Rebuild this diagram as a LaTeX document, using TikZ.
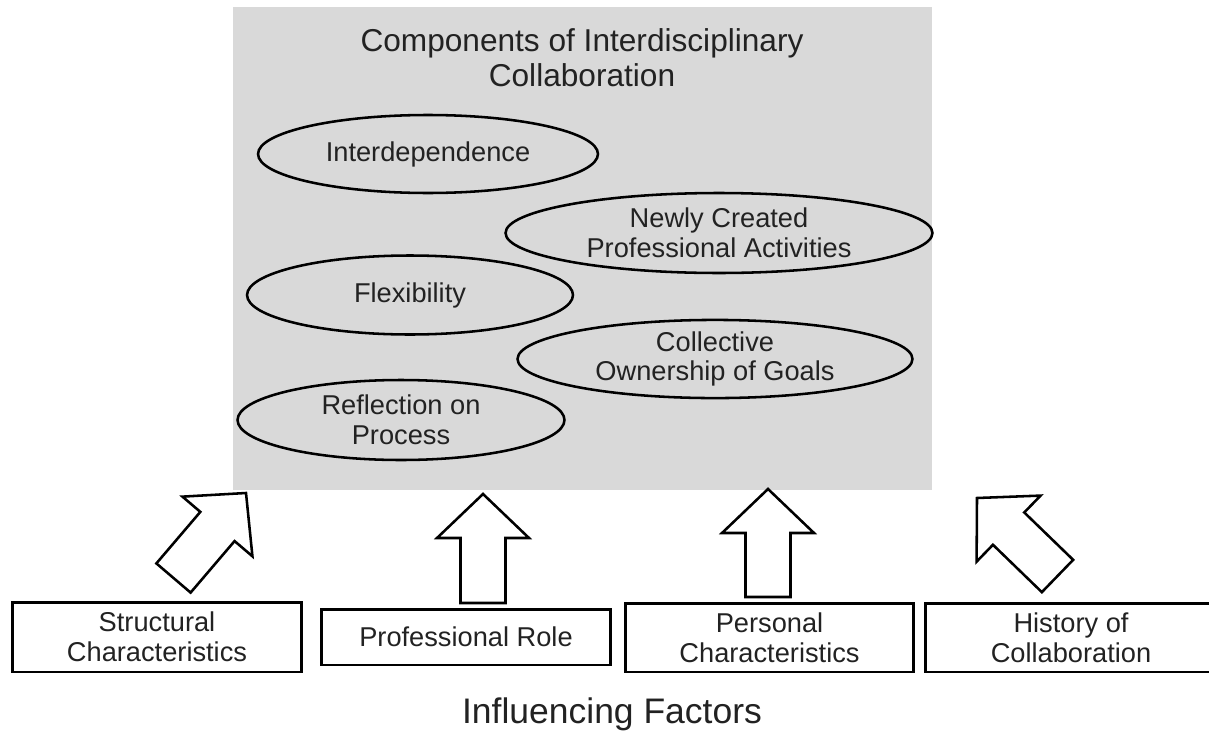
\documentclass[tikz,border=0pt]{standalone}
\usepackage{fontspec}
\setmainfont{Liberation Sans}
\usetikzlibrary{shapes.geometric, calc, positioning}
\definecolor{panelgray}{HTML}{D9D9D9}
\definecolor{inkgray}{HTML}{222222}
\newcommand{\BlockArrow}[2]{%
  \coordinate (#2-base) at ($(#2)!0.88cm!(#1)$);
  \draw[blockarrow] ($(#1)!0.45cm!90:(#2)$) -- ($(#2-base)!0.45cm!90:(#2)$)
    -- ($(#2-base)!0.92cm!90:(#2)$) -- (#2) -- ($(#2-base)!0.92cm!-90:(#2)$)
    -- ($(#2-base)!0.45cm!-90:(#2)$) -- ($(#1)!0.45cm!-90:(#2)$) -- cycle;
}
\tikzset{
    panel/.style={rectangle, fill=panelgray, draw=none, inner sep=0pt},
    comp/.style={ellipse, draw=black, line width=1.45pt, inner sep=0pt,
      align=center, text=inkgray, font=\fontsize{15.5}{17}\selectfont},
    factor/.style={rectangle, draw=black, line width=1.7pt, inner sep=0pt,
      align=center, text=inkgray, font=\fontsize{15.5}{17}\selectfont},
    blockarrow/.style={draw=black, fill=white, line width=1.45pt, line join=miter},
}
\begin{document}
\begin{tikzpicture}[x=0.02cm, y=-0.02cm]
    \useasboundingbox (0,0) rectangle (1209,730);

    % components
    \node[panel, minimum width=13.98cm, minimum height=9.66cm] (panel) at (582.5,248.5) {};
    \node[align=center, text=inkgray, font=\fontsize{18}{19.9}\selectfont] (title) at (582,58)
      {Components of Interdisciplinary\\Collaboration};

    \node[comp, minimum width=6.8cm, minimum height=1.56cm] (inter) at (428,154) {Interdependence};
    \node[comp, minimum width=8.54cm, minimum height=1.6cm] (newly) at (719,233) {Newly Created\\Professional Activities};
    \node[comp, minimum width=6.52cm, minimum height=1.58cm] (flex) at (410,295) {Flexibility};
    \node[comp, minimum width=7.9cm, minimum height=1.56cm] (coll) at (715,359) {Collective\\Ownership of Goals};
    \node[comp, minimum width=6.54cm, minimum height=1.6cm] (refl) at (401,420) {Reflection on\\Process};

    % influencing factors
    \node[factor, minimum width=5.8cm, minimum height=1.4cm] (struct) at (157,637) {Structural\\Characteristics};
    \node[factor, minimum width=5.8cm, minimum height=1.12cm] (role) at (466,637) {Professional Role};
    \node[factor, minimum width=5.78cm, minimum height=1.38cm] (pers) at (769.5,637.5) {Personal\\Characteristics};
    \node[factor, minimum width=6.1cm, minimum height=1.38cm] (hist) at (1078,637.5) {};
    \node[align=center, text=inkgray, font=\fontsize{15.5}{17}\selectfont] (histtext) at (1071,637.5) {History of\\Collaboration};
    \node[anchor=base, text=inkgray, font=\fontsize{20.2}{22}\selectfont] (factors) at (612,723) {Influencing Factors};

    \coordinate (tail1) at (173.5,578);  \coordinate (tip1) at (246,493);
    \coordinate (tail2) at (483,603);    \coordinate (tip2) at (483,494);
    \coordinate (tail3) at (768,597);    \coordinate (tip3) at (768,489);
    \coordinate (tail4) at (1057.5,576); \coordinate (tip4) at (977,498);

    \BlockArrow{tail1}{tip1}
    \BlockArrow{tail2}{tip2}
    \BlockArrow{tail3}{tip3}
    \BlockArrow{tail4}{tip4}
\end{tikzpicture}
\end{document}
